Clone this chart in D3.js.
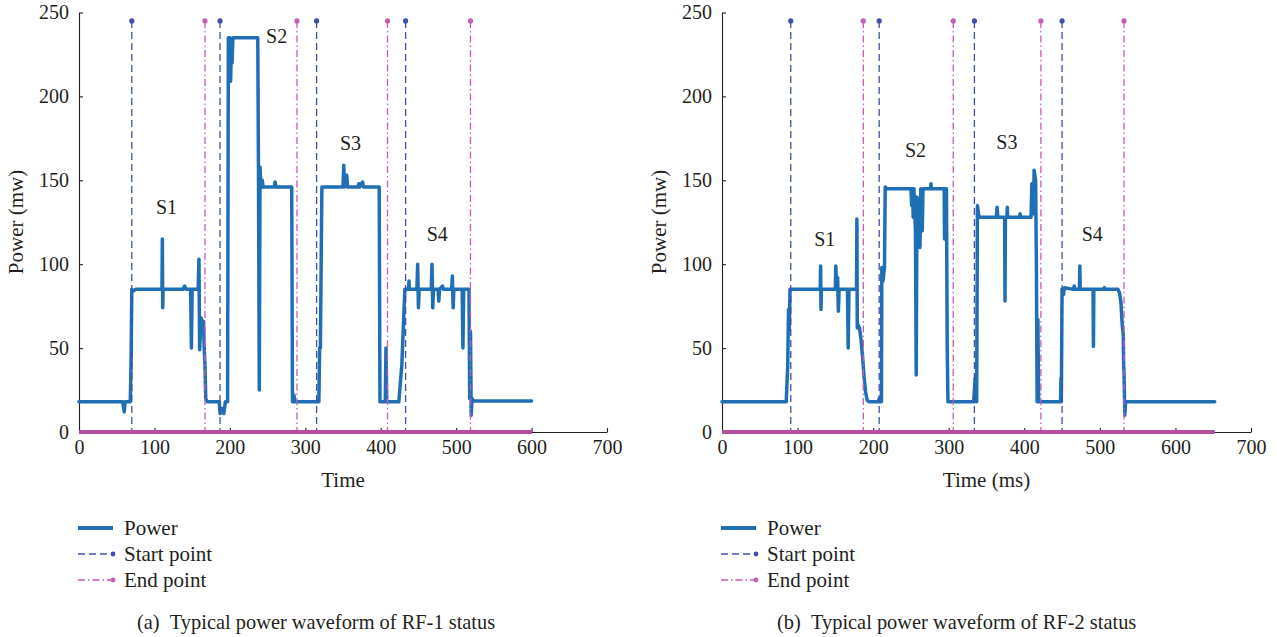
<!DOCTYPE html>
<html>
<head>
<meta charset="utf-8">
<script src="https://cdn.jsdelivr.net/npm/d3@7"></script>
<style>
  html, body { margin: 0; padding: 0; background: #fff; }
  svg { display: block; }
  text { font-family: "Liberation Serif", "DejaVu Serif", serif; fill: #231f20; }
</style>
</head>
<body>
<svg id="chart" width="1277" height="637"></svg>
<script>
// ---- RF-1 status waveform ----
const rf1Time = [0, 58, 60, 61, 68, 69, 70, 72, 75, 110, 110.5, 111, 111.5, 138, 140, 142, 148, 149, 150,
  158, 159, 160, 161, 162, 164, 165, 166, 167, 168, 170, 186, 187, 190, 192, 194, 197, 198, 199, 200,
  201, 202, 203, 204, 237, 238, 239, 240, 241, 243, 244, 259, 260, 261, 282, 283, 285, 286, 318, 319,
  320, 322, 350, 351, 352, 355, 356, 370, 371, 372, 376, 377, 398, 399, 400, 406, 407, 408, 424, 428,
  432, 437, 437.5, 438, 448, 449, 450, 451, 467, 468, 469, 470, 476, 477, 478, 482, 483, 494, 495, 496,
  497, 508, 509, 510, 517, 518, 519, 520, 521, 523, 600];
const rf1Power = [18, 18, 12, 18, 18, 40, 85, 84, 85, 85, 115, 74, 85, 85, 87, 85, 85, 50, 85,
  85, 103, 49, 60, 68, 62, 66, 50, 40, 20, 18, 18, 11, 14, 11, 18, 18, 235, 210, 235,
  209, 230, 220, 235, 235, 150, 25, 158, 146, 150, 146, 146, 149, 146, 146, 18, 22, 18, 18, 50,
  50, 146, 146, 159, 146, 153, 146, 146, 148, 146, 149, 146, 146, 18, 18, 18, 50, 18, 18, 40,
  85, 85, 90, 85, 85, 100, 74, 85, 85, 100, 74, 85, 85, 78, 85, 87, 85, 85, 93, 74,
  85, 85, 50, 85, 85, 20, 60, 10, 20, 18.5, 18.5];
const rf1Start = [70, 187, 315, 433];
const rf1End = [167, 289, 409, 519];
const rf1Stages = ["S1", "S2", "S3", "S4"];
const rf1StageX = [116, 262, 360, 475];
const rf1StageY = [134, 236, 172, 118];

// ---- RF-2 status waveform ----
const rf2Time = [0, 85, 87, 88, 89, 90, 130, 130.5, 131, 131.5, 150, 150.5, 152, 153, 154, 155, 166, 167, 168,
  178, 178.5, 179, 180, 182, 184, 186, 188, 190, 192, 195, 207, 208, 209, 211, 211.5, 213, 215, 216,
  218, 250, 251, 252, 253, 254, 256, 257, 258, 260, 262, 263, 265, 266, 276, 276.5, 277, 294, 294.5,
  296, 297, 298, 299, 333, 335, 337, 338, 340, 363, 364, 365, 374, 374.5, 375, 377, 377.5, 378, 394,
  394.5, 395, 409, 410, 412, 413, 415, 416, 417, 418, 419, 448, 448.5, 449, 450, 452, 453, 465, 466,
  467, 473, 473.5, 474, 491, 491.5, 492, 505, 506, 507, 524, 526, 528, 529, 530, 531, 531.5, 532, 533,
  534, 536, 652];
const rf2Power = [18, 18, 40, 73, 60, 85, 85, 99, 73, 85, 85, 99, 85, 92, 72, 85, 85, 50, 85,
  85, 127, 62, 64, 62, 55, 45, 33, 24, 19, 18, 18, 20, 18, 18, 98, 90, 98, 146,
  145, 145, 135, 145, 128, 145, 120, 34, 140, 130, 110, 145, 120, 145, 145, 148, 145, 145, 115,
  145, 145, 50, 18, 18, 32, 18, 135, 128, 128, 134, 128, 128, 78, 128, 128, 134, 128, 128,
  130, 128, 128, 148, 130, 156, 150, 100, 18, 67, 18, 18, 32, 18, 85, 82, 86, 85, 87,
  85, 85, 99, 85, 85, 51, 85, 85, 86, 85, 85, 83, 77, 68, 62, 58, 40, 35, 10,
  18, 18, 18];
const rf2Start = [91, 208, 334, 450];
const rf2End = [187, 306, 422, 532];
const rf2Stages = ["S1", "S2", "S3", "S4"];
const rf2StageX = [136, 256, 377, 490];
const rf2StageY = [115, 168, 173, 118];

// ---- shared axis settings ----
const timeTicks = [0, 100, 200, 300, 400, 500, 600, 700];
const powerTicks = [0, 50, 100, 150, 200, 250];
const markerTop = 245;
const legendLabels = ["Power", "Start point", "End point"];

const colors = {
  power: "#1f6fb5",
  start: "#3f50a8",
  end: "#c65cb3",
  base: "#b4509f",
  axis: "#231f20"
};

const svg = d3.select("#chart");

function drawPanel(opt) {
  const x = d3.scaleLinear().domain([0, 700]).range([opt.left, opt.right]);
  const y = d3.scaleLinear().domain([0, 250]).range([432, 12.5]);
  const g = svg.append("g");

  // axes: ticks point inward
  const xAxis = d3.axisBottom(x).tickValues(timeTicks).tickSizeInner(-4).tickSizeOuter(0).tickPadding(8);
  const yAxis = d3.axisLeft(y).tickValues(powerTicks).tickSizeInner(-4).tickSizeOuter(0).tickPadding(10);
  const gx = g.append("g").attr("transform", `translate(0,${y(0)})`).call(xAxis);
  const gy = g.append("g").attr("transform", `translate(${x(0)},0)`).call(yAxis);
  [gx, gy].forEach(a => {
    a.selectAll("path, line").attr("stroke", colors.axis).attr("stroke-width", 1.1);
    a.selectAll("text").style("font-family", '"Liberation Serif", serif').style("font-size", "20px").attr("fill", colors.axis);
  });

  // axis titles
  g.append("text")
    .attr("x", (opt.left + opt.right) / 2)
    .attr("y", 487)
    .attr("text-anchor", "middle")
    .style("font-size", "21px")
    .text(opt.xTitle);
  g.append("text")
    .attr("transform", `translate(${opt.left - 63},222) rotate(-90)`)
    .attr("text-anchor", "middle")
    .attr("dy", "0.35em")
    .style("font-size", "21px")
    .text("Power (mw)");

  // power waveform
  const pts = opt.time.map((t, i) => [t, opt.power[i]]);
  g.append("path")
    .datum(pts)
    .attr("fill", "none")
    .attr("stroke", colors.power)
    .attr("stroke-width", 3.5)
    .attr("stroke-linejoin", "round")
    .attr("stroke-linecap", "round")
    .attr("d", d3.line().x(d => x(d[0])).y(d => y(d[1])));

  // start / end markers
  function markers(vals, color, dash, cls) {
    const m = g.append("g").attr("class", cls);
    m.selectAll("line").data(vals).join("line")
      .attr("x1", d => x(d)).attr("x2", d => x(d))
      .attr("y1", y(markerTop)).attr("y2", y(0))
      .attr("stroke", color).attr("stroke-width", 1.3)
      .attr("stroke-dasharray", dash);
    m.selectAll("circle").data(vals).join("circle")
      .attr("cx", d => x(d)).attr("cy", y(markerTop)).attr("r", 2.6)
      .attr("fill", color);
  }
  markers(opt.start, colors.start, "7,4", "start");
  markers(opt.end, colors.end, "7,3,1.5,3", "end");

  // zero-level trace of the end-point series along the time axis
  const tEnd = opt.time[opt.time.length - 1];
  g.append("line")
    .attr("x1", x(0)).attr("x2", x(tEnd))
    .attr("y1", y(0)).attr("y2", y(0))
    .attr("stroke", colors.base).attr("stroke-width", 4.2);

  // stage labels
  g.selectAll("text.stage").data(opt.stages).join("text")
    .attr("class", "stage")
    .attr("x", (d, i) => x(opt.stageX[i]))
    .attr("y", (d, i) => y(opt.stageY[i]))
    .attr("dy", "0.35em")
    .attr("text-anchor", "middle")
    .style("font-size", "20px")
    .text(d => d);

  // legend
  const lg = g.append("g");
  const lx0 = opt.legendX, lx1 = opt.legendX + 35, rows = [528, 554, 580];
  lg.append("line").attr("x1", lx0).attr("x2", lx1).attr("y1", rows[0]).attr("y2", rows[0])
    .attr("stroke", colors.power).attr("stroke-width", 4);
  lg.append("line").attr("x1", lx0).attr("x2", lx1).attr("y1", rows[1]).attr("y2", rows[1])
    .attr("stroke", colors.start).attr("stroke-width", 1.3).attr("stroke-dasharray", "7,4");
  lg.append("circle").attr("cx", lx1).attr("cy", rows[1]).attr("r", 2.4).attr("fill", colors.start);
  lg.append("line").attr("x1", lx0).attr("x2", lx1).attr("y1", rows[2]).attr("y2", rows[2])
    .attr("stroke", colors.end).attr("stroke-width", 1.3).attr("stroke-dasharray", "7,3,1.5,3");
  lg.append("circle").attr("cx", lx1).attr("cy", rows[2]).attr("r", 2.4).attr("fill", colors.end);
  lg.selectAll("text").data(legendLabels).join("text")
    .attr("x", lx1 + 11)
    .attr("y", (d, i) => rows[i])
    .attr("dy", "0.35em")
    .style("font-size", "21px")
    .text(d => d);

  // caption
  g.append("text")
    .attr("x", opt.captionX)
    .attr("y", 622)
    .attr("dy", "0.35em")
    .style("font-size", "20.4px")
    .attr("xml:space", "preserve")
    .text(opt.caption);
}

drawPanel({
  left: 79, right: 607,
  time: rf1Time, power: rf1Power, start: rf1Start, end: rf1End,
  stages: rf1Stages, stageX: rf1StageX, stageY: rf1StageY,
  xTitle: "Time", legendX: 78, captionX: 137,
  caption: "(a)\u2002Typical power waveform of RF-1 status"
});
drawPanel({
  left: 722, right: 1251,
  time: rf2Time, power: rf2Power, start: rf2Start, end: rf2End,
  stages: rf2Stages, stageX: rf2StageX, stageY: rf2StageY,
  xTitle: "Time (ms)", legendX: 721, captionX: 777,
  caption: "(b)\u2002Typical power waveform of RF-2 status"
});
</script>
</body>
</html>
